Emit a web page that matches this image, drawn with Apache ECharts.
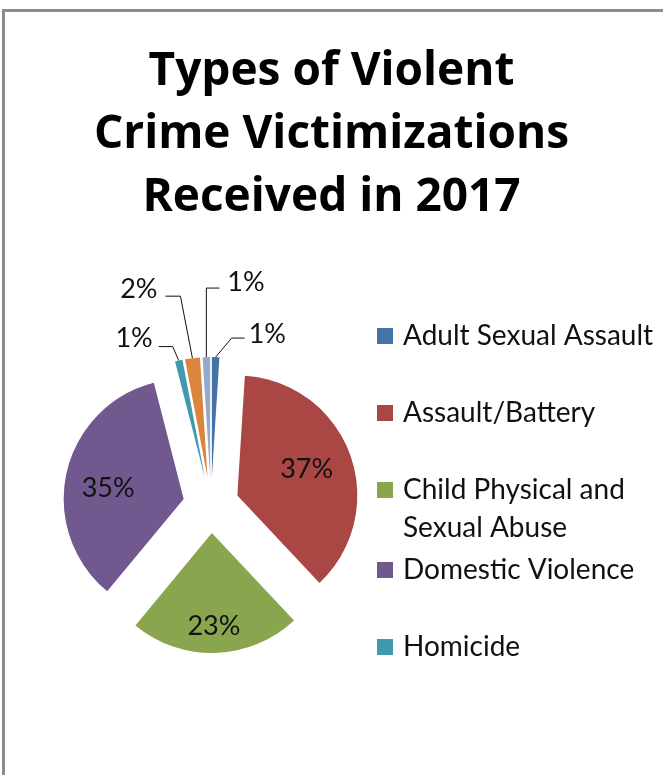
<!DOCTYPE html>
<html>
<head>
<meta charset="utf-8">
<script src="https://cdn.jsdelivr.net/npm/echarts@6/dist/echarts.min.js"></script>
<style>
  html, body { margin: 0; padding: 0; background: #fff; overflow: hidden; }
  #frame { position: absolute; left: 2px; top: 9px; width: 720px; height: 820px;
           border-left: 3px solid #8c8c8c; border-top: 3px solid #8c8c8c; }
  #chart { position: absolute; left: 0; top: 0; width: 663px; height: 775px; }
</style>
</head>
<body>
<div id="frame"></div>
<div id="chart"></div>
<script>
// categories in Excel order (last two fall outside the cut-off legend)
const categories = [
  'Adult Sexual Assault',
  'Assault/Battery',
  'Child Physical and Sexual Abuse',
  'Domestic Violence',
  'Homicide',
  'Robbery',
  'Other'
];
const shares = [1, 37, 23, 35, 1, 2, 1];
const sliceColors = ['#4572A7', '#AA4643', '#89A54E', '#71588F', '#4198AF', '#DB843D', '#93A9CF'];
const legendNames = categories.slice(0, 5);

// leader lines for the thin slices: [elbow dx, elbow dy, horizontal run, text gap, text dy]
const smallLegs = {
  0: [16, -19, 13, 4, -4],
  4: [-6, -14, -14, 6, -8],
  5: [-12, -62, -15, 8, -7],
  6: [0, -69, 13, 8, -6]
};
// nudges for the labels inside the big slices
const insideNudge = { 1: [10, -5], 2: [0, 30], 3: [-14, 3] };

const chart = echarts.init(document.getElementById('chart'));

const pieData = categories.map((name, i) => ({
  name: name,
  value: shares[i],
  selected: true,
  itemStyle: { color: sliceColors[i] },
  label: { position: shares[i] < 5 ? 'outside' : 'inside' },
  labelLine: { show: shares[i] < 5 }
}));

const legendText = { fontSize: 28, lineHeight: 38, color: '#111', fontFamily: 'Lato', padding: [0, 0, 0, 5] };
const legendBase = {
  orient: 'vertical',
  left: 377,
  padding: 0,
  itemGap: 39,
  itemWidth: 16,
  itemHeight: 16,
  icon: 'rect',
  selectedMode: false,
  textStyle: legendText
};

const option = {
  animation: false,
  textStyle: { fontFamily: 'Lato' },
  title: {
    text: 'Types of Violent\nCrime Victimizations\nReceived in 2017',
    left: 'center',
    top: 35,
    textStyle: { fontSize: 46, fontWeight: 'bold', lineHeight: 63, color: '#000', fontFamily: 'Open Sans' }
  },
  legend: [
    Object.assign({}, legendBase, { top: 317, data: legendNames.slice(0, 2) }),
    // wrapped entry: square kept level with the first text line
    Object.assign({}, legendBase, {
      top: 471,
      itemHeight: 54,
      icon: 'path://M0,0L16,0L16,16L0,16Z M0,54',
      data: legendNames.slice(2, 3),
      formatter: n => n.replace('and Sexual', 'and\nSexual')
    }),
    Object.assign({}, legendBase, { top: 551, data: legendNames.slice(3, 5) })
  ],
  series: [{
    type: 'pie',
    center: [211, 505],
    radius: 120,
    startAngle: 90,
    clockwise: true,
    selectedMode: 'multiple',
    selectedOffset: 28,
    avoidLabelOverlap: false,
    emphasis: { disabled: true },
    label: {
      formatter: '{c}%',
      fontSize: 27,
      color: '#111',
      fontFamily: 'Lato'
    },
    labelLine: {
      length: 10,
      length2: 10,
      lineStyle: { color: '#111', width: 1 }
    },
    labelLayout: function (p) {
      const leg = smallLegs[p.dataIndex];
      if (leg && p.labelLinePoints) {
        const s = p.labelLinePoints[0];
        const e = [s[0] + leg[0], s[1] + leg[1]];
        const t = [e[0] + leg[2], e[1]];
        const r = p.labelRect;
        const right = leg[2] > 0;
        const wantX = right ? t[0] + leg[3] : t[0] - leg[3] - r.width;
        const wantY = t[1] + leg[4] - r.height / 2;
        return {
          dx: wantX - r.x,
          dy: wantY - r.y,
          labelLinePoints: [s, e, t]
        };
      }
      const n = insideNudge[p.dataIndex];
      return n ? { dx: n[0], dy: n[1] } : {};
    },
    data: pieData
  }]
};

chart.setOption(option);
</script>
</body>
</html>
